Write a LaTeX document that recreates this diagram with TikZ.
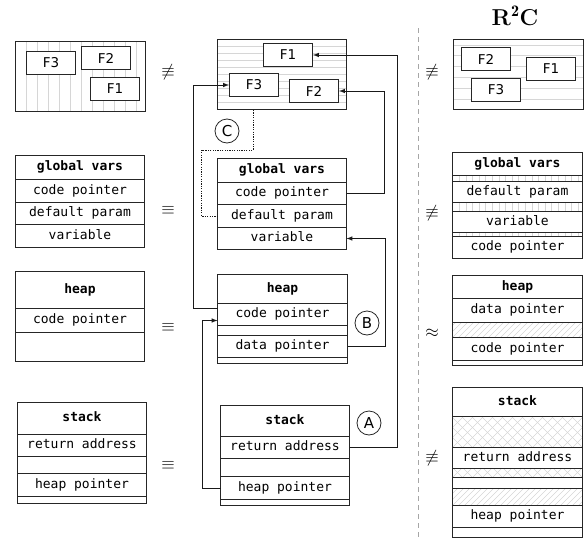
\documentclass[tikz,border=0pt]{standalone}
\usepackage{fontspec}
\usepackage{amsmath}
\usepackage{amssymb}
\usetikzlibrary{%
  matrix,%
  calc%
}
\newfontfamily\memfont{DejaVu Sans Mono}
\newfontfamily\lblfont{DejaVu Sans}

\tikzset{
  ink/.style={draw=black!85},
  stripe/.style={draw=black!16,line width=0.4pt},
  mem/.style={matrix of nodes,row sep=-1pt,anchor=north west,inner sep=0pt,outer sep=0pt,
    nodes={ink,minimum width=#1,inner sep=0pt,text height=9pt,text depth=2.5pt,
      font=\memfont\fontsize{13}{15}\selectfont,anchor=center}},
  hd/.style={minimum height=#1,font=\memfont\bfseries\fontsize{13}{15}\selectfont},
  rw/.style={minimum height=#1},
  gap/.style={minimum height=#1,text height=0pt,text depth=0pt},
  vlines/.style={path picture={
    \foreach \i in {1,...,24}
      \draw[stripe] ([xshift=\i*#1]path picture bounding box.south west)
        -- ([xshift=\i*#1]path picture bounding box.north west);}},
  hlines/.style={path picture={
    \foreach \i in {1,...,12}
      \draw[stripe] ([yshift=\i*#1]path picture bounding box.south west)
        -- ([yshift=\i*#1]path picture bounding box.south east);}},
  hatch/.style={path picture={
    \foreach \i in {-6,...,24}
      \draw[stripe] ([xshift=\i*#1]path picture bounding box.south west) -- ++(40pt,40pt);}},
  cross/.style={path picture={
    \foreach \i in {-4,...,18}{
      \draw[stripe] ([xshift=\i*#1]path picture bounding box.south west) -- ++(40pt,40pt);
      \draw[stripe] ([xshift=\i*#1]path picture bounding box.south west) -- ++(-40pt,40pt);}}},
  codebox/.style={ink,anchor=north west,minimum width=130pt,minimum height=70pt,inner sep=0pt},
  frame/.style={ink,fill=white,anchor=north west,minimum width=49pt,minimum height=23pt,
    inner sep=0pt,font=\lblfont\fontsize{13.5}{15}\selectfont},
  tag/.style={circle,draw=black!85,line width=0.8pt,minimum size=24pt,inner sep=0pt,
    font=\lblfont\fontsize{15}{15}\selectfont},
  rel/.style={font=\fontsize{18}{18}\selectfont},
  link/.style={->,draw=black!90},
}

\begin{document}
\begin{tikzpicture}[x=1pt,y=-1pt,>=latex,line width=1pt]
\useasboundingbox (0,0) rectangle (586,538);

% code regions
\node[codebox,vlines=11pt] (lcode) at (15,41) {};
\node[frame] (lF3) at (26,51) {F3};
\node[frame] (lF2) at (81,46) {F2};
\node[frame] (lF1) at (90,77) {F1};

\node[codebox,hlines=7pt,minimum width=129pt] (mcode) at (217,39) {};
\node[frame] (mF1) at (263,43) {F1};
\node[frame] (mF3) at (229,73) {F3};
\node[frame] (mF2) at (289,79) {F2};

\node[codebox,vlines=10.8pt,hlines=10.8pt] (rcode) at (453,39) {};
\node[frame] (rF2) at (461,47) {F2};
\node[frame] (rF1) at (526,57) {F1};
\node[frame] (rF3) at (471,78) {F3};

% left column
\matrix[mem=129pt] (lg) at (15,155)
{
|[hd=24pt]| global vars \\
|[rw=23pt]| code pointer \\
|[rw=22pt]| default param \\
|[rw=23pt]| variable \\
};
\matrix[mem=129pt] (lh) at (15,271)
{
|[hd=37pt]| heap \\
|[rw=24pt]| code pointer \\
|[gap=29pt]| {} \\
};
\matrix[mem=129pt] (ls) at (17,402)
{
|[hd=32pt]| stack \\
|[rw=22pt]| return address \\
|[gap=17pt]| {} \\
|[rw=23pt]| heap pointer \\
|[gap=7pt]| {} \\
};

% middle column
\matrix[mem=129pt] (mg) at (217,158)
{
|[hd=24pt]| global vars \\
|[rw=22pt]| code pointer \\
|[rw=23pt]| default param \\
|[rw=22pt]| variable \\
};
\matrix[mem=130pt] (mh) at (217,274)
{
|[hd=29pt]| heap \\
|[rw=22pt]| code pointer \\
|[gap=10pt]| {} \\
|[rw=22pt]| data pointer \\
|[gap=6pt]| {} \\
};
\matrix[mem=129pt] (ms) at (220,405)
{
|[hd=31pt]| stack \\
|[rw=22pt]| return address \\
|[gap=18pt]| {} \\
|[rw=23pt]| heap pointer \\
|[gap=6pt]| {} \\
};

% right column
\matrix[mem=130pt] (rg) at (452,152)
{
|[hd=23pt]| global vars \\
|[gap=6pt,vlines=6.6pt]| {} \\
|[rw=21pt]| default param \\
|[gap=9pt,vlines=6.6pt]| {} \\
|[rw=21pt]| variable \\
|[gap=4pt,vlines=6.6pt]| {} \\
|[rw=22pt]| code pointer \\
};
\matrix[mem=130pt] (rh) at (452,275)
{
|[hd=23pt]| heap \\
|[rw=24pt]| data pointer \\
|[gap=15pt,hatch=6pt]| {} \\
|[rw=23pt]| code pointer \\
|[gap=5pt]| {} \\
};
\matrix[mem=130pt] (rs) at (452,387)
{
|[hd=29pt]| stack \\
|[gap=31pt,cross=10pt]| {} \\
|[rw=21pt]| return address \\
|[gap=9pt,cross=10pt]| {} \\
|[gap=11pt]| {} \\
|[gap=17pt,hatch=6pt]| {} \\
|[rw=22pt]| heap pointer \\
|[gap=10pt]| {} \\
};

% relations
\node[rel] (eqla) at (168,72) {$\not\equiv$};
\node[rel] (eqlb) at (168,210) {$\equiv$};
\node[rel] (eqlc) at (168,327) {$\equiv$};
\node[rel] (eqld) at (168,465) {$\equiv$};
\node[rel] (eqra) at (432,72) {$\not\equiv$};
\node[rel] (eqrb) at (432,213) {$\not\equiv$};
\node[rel] (eqrc) at (432,333) {$\approx$};
\node[rel] (eqrd) at (432,458) {$\not\equiv$};

\node[font=\fontsize{23}{26}\selectfont\bfseries] (title) at (515,16) {R$^{\mathbf{2}}$C};

% separator
\coordinate (septop) at (418,28);
\coordinate (sepbot) at (418,538);
\draw[black!35,line width=0.6pt,dash pattern=on 5pt off 4pt] (septop) -- (sepbot);

% pointers
\draw[link] (mg-2-1.east) -- ++(38,0) |- (mF2.east);
\draw[link] (mh-4-1.east) -- ++(38,0) |- (mg-4-1.east);
\draw[link] (ms-2-1.east) -- ++(48,0) |- (mF1.east);
\draw[link] ($(mh-2-1.west)+(0,-6)$) -- ++(-24,0) |- (mF3.west);
\draw[link] (ms-4-1.west) -- ++(-18,0) |- ($(mh-2-1.west)+(0,6)$);
\draw[black!90,dash pattern=on 1.2pt off 1.2pt] ($(mcode.south west)+(36,0)$) -- ++(0,40)
  -| ($(mg-3-1.west)+(-16,0)$) -- (mg-3-1.west);

\node[tag] (tagC) at (227,131) {C};
\node[tag] (tagB) at (367,323) {B};
\node[tag] (tagA) at (369,423) {A};
\end{tikzpicture}
\end{document}
